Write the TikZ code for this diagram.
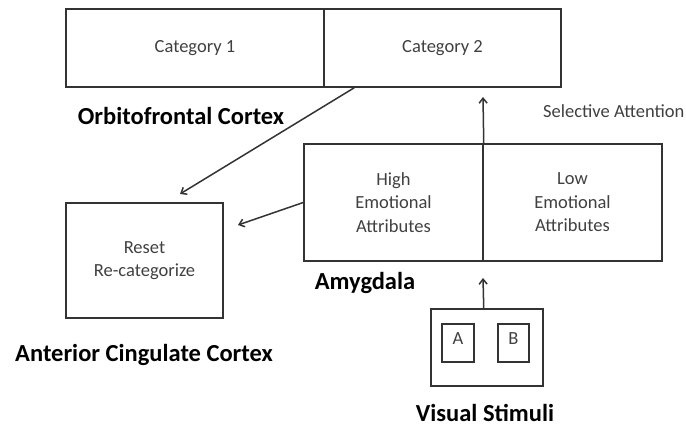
\documentclass[tikz,border=0pt]{standalone}
\usepackage{fontspec}
\setmainfont{Carlito}
\usetikzlibrary{arrows.meta,calc}
\begin{document}
\begin{tikzpicture}[x=1pt,y=-1pt,
  box/.style={draw=black!80,line width=1.5pt,rectangle,inner sep=0pt,
    font=\fontsize{18.5}{23.5}\selectfont,text=black!75,align=center},
  plain/.style={font=\fontsize{18.5}{23.5}\selectfont,text=black!75,inner sep=0pt},
  lbl/.style={font=\fontsize{24.5}{29}\selectfont\bfseries,text=black,anchor=base,inner sep=0pt},
  conn/.style={draw=black!80,line width=1.5pt,-{Straight Barb[length=5pt,width=8pt]}}]
\useasboundingbox (0,0) rectangle (686,429);
% Orbitofrontal cortex box
\node[box,minimum width=258,minimum height=78] (cat1) at (195,48) {Category 1};
\node[box,minimum width=237,minimum height=78] (cat2) at (442.5,48) {Category 2};
% Amygdala box
\node[box,minimum width=179,minimum height=117] (high) at (393.5,202.5) {High\\Emotional\\Attributes};
\node[box,minimum width=179,minimum height=117] (low) at (572.5,202.5) {Low\\Emotional\\Attributes};
% ACC box
\node[box,minimum width=157,minimum height=115] (acc) at (144.5,260.5) {Reset\\Re-categorize};
% Visual stimuli
\node[box,minimum width=112,minimum height=77] (vis) at (487,347.5) {};
\node[box,minimum width=32,minimum height=38,text depth=8pt] (sa) at (458,343) {A};
\node[box,minimum width=31,minimum height=38,text depth=8pt] (sb) at (513.5,343) {B};
% labels
\node[lbl] (ofc) at (181,124) {Orbitofrontal Cortex};
\node[plain,anchor=base west] (sel) at (543,117) {Selective Attention};
\node[lbl] (amy) at (365,289) {Amygdala};
\node[lbl] (acclbl) at (144,361) {Anterior Cingulate Cortex};
\node[lbl] (vislbl) at (485,421) {Visual Stimuli};
% connectors
\coordinate (a1s) at ($(cat2.south west)+(31,0)$);
\coordinate (a1e) at (180,194);
\draw[conn] (a1s) -- (a1e);
\coordinate (a2e) at (238,225);
\draw[conn] (high.west) -- (a2e);
\coordinate (a3e) at (483,97);
\draw[conn] (high.north east) -- (a3e);
\coordinate (a4s) at (vis.north -| high.south east);
\coordinate (a4e) at (483,278);
\draw[conn] (a4s) -- (a4e);
\end{tikzpicture}
\end{document}
